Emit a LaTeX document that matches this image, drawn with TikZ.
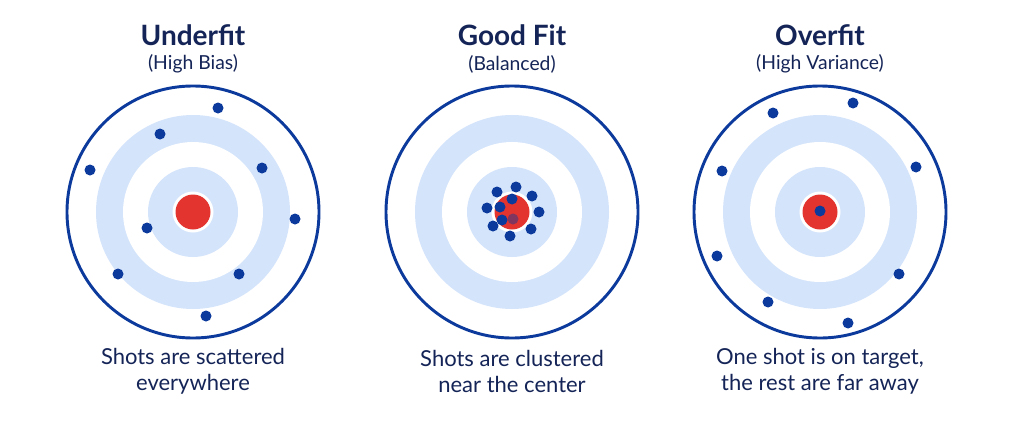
\documentclass[tikz,border=0pt]{standalone}
\usepackage{fontspec}
\setmainfont{Lato}
\definecolor{ringblue}{HTML}{D4E4FB}
\definecolor{shotblue}{HTML}{0B3A9C}
\definecolor{bullred}{HTML}{E3342F}
\definecolor{titlenavy}{HTML}{142457}
\tikzset{
    shot/.style={fill=shotblue, draw=none},
    title/.style={font=\fontsize{21}{24}\selectfont\bfseries, text=titlenavy},
    subtitle/.style={font=\fontsize{14.5}{17}\selectfont, text=titlenavy},
    caption/.style={font=\fontsize{16.5}{19.5}\selectfont, text=titlenavy, align=center}
}
\newcommand{\target}[1]{%
    \fill[white] (#1,212) circle (126);
    \fill[ringblue] (#1,212) circle (97);
    \fill[white] (#1,212) circle (70);
    \fill[ringblue] (#1,212) circle (45);
    \fill[white] (#1,212) circle (20.5);
    \fill[bullred] (#1,212) circle (17.5);
    \draw[shotblue, line width=2.2pt] (#1,212) circle (126);
}
\begin{document}
\begin{tikzpicture}[x=0.75pt, y=-0.75pt]
    \useasboundingbox[fill=white] (0,0) rectangle (1024,439);

    % targets
    \target{193}
    \target{512}
    \target{820}

    % titles
    \node[title] (t1) at (193,35) {Underfit};
    \node[subtitle] (s1) at (193,64) {(High Bias)};
    \node[title] (t2) at (512,35) {Good Fit};
    \node[subtitle] (s2) at (512,64) {(Balanced)};
    \node[title] (t3) at (820,35) {Overfit};
    \node[subtitle] (s3) at (820,64) {(High Variance)};

    % underfit shots
    \foreach \x/\y in {218/108,160/134,90/170,262/168,295/219,147/228,118/274,239/274,206/316}
        \fill[shot] (\x,\y) circle (5.5);

    % good fit shots
    \foreach \x/\y in {497/192,516/187,532/196,487/208,512/199,500/207,539/212,502/220,493/226,531/229,510/236}
        \fill[shot] (\x,\y) circle (5.5);
    \fill[shot, opacity=0.45] (513,219) circle (5.5);

    % overfit shots
    \foreach \x/\y in {853/103,773/113,722/171,916/167,717/256,899/274,768/302,848/323,820/211}
        \fill[shot] (\x,\y) circle (5.5);

    % captions
    \node[caption] (c1) at (193,371) {Shots are scattered\\everywhere};
    \node[caption] (c2) at (512,371) {Shots are clustered\\near the center};
    \node[caption] (c3) at (820,371) {One shot is on target,\\the rest are far away};

\end{tikzpicture}
\end{document}
